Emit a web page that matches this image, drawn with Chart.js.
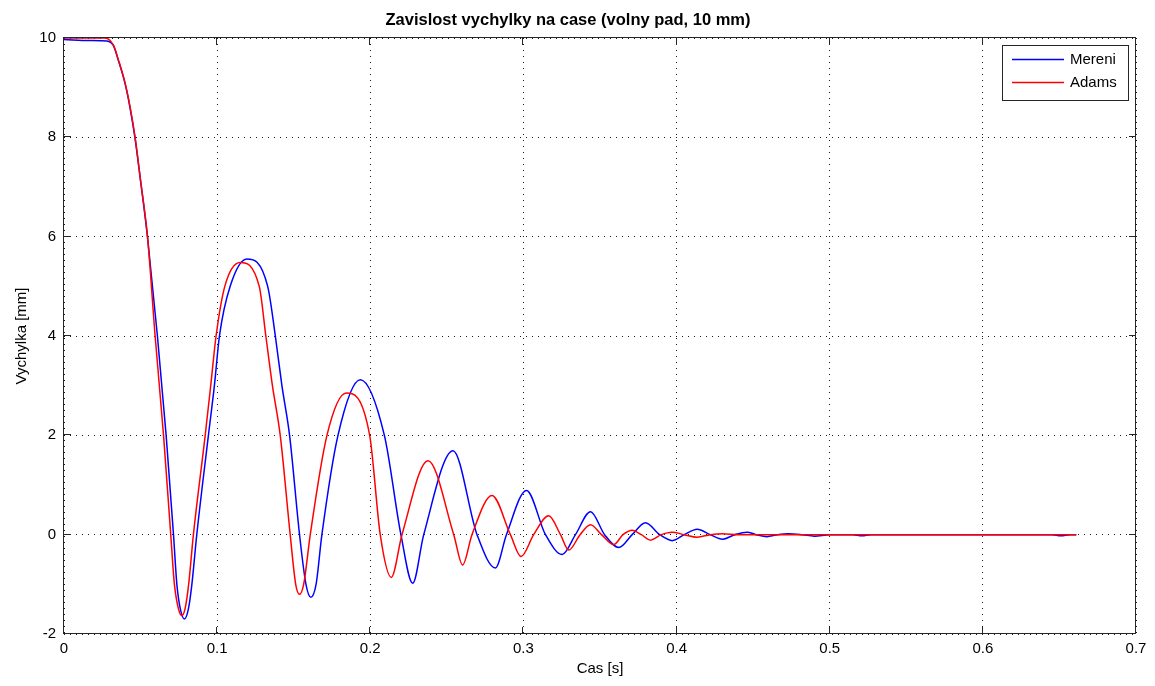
<!DOCTYPE html>
<html>
<head>
<meta charset="utf-8">
<script src="https://cdn.jsdelivr.net/npm/chart.js@4.4.0/dist/chart.umd.min.js"></script>
<style>
    html, body { margin: 0; padding: 0; background: #fff; }
    #wrap { width: 1155px; height: 686px; }
</style>
</head>
<body>
<div id="wrap"><canvas id="chart" width="1155" height="686"></canvas></div>
<script>
// time [s] / deflection [mm] (Mereni)
const tMereni = [0, 0.017, 0.028, 0.0322, 0.0355, 0.0399, 0.0431, 0.0464, 0.0497, 0.0545, 0.061,
    0.0667, 0.0715, 0.0737, 0.076, 0.0786, 0.0812, 0.0835, 0.0867, 0.0943, 0.0982, 0.1015, 0.1085, 0.1194,
    0.133, 0.138, 0.1423, 0.1473, 0.1538, 0.158, 0.1612, 0.1646, 0.1684, 0.1789, 0.1935, 0.2092, 0.220,
    0.2277, 0.2349, 0.254, 0.2697, 0.2817, 0.2889, 0.302, 0.3144, 0.3253, 0.334, 0.3438, 0.353, 0.3623,
    0.371, 0.3797, 0.389, 0.3972, 0.405, 0.4135, 0.422, 0.43, 0.438, 0.446, 0.452, 0.459, 0.466, 0.473,
    0.482, 0.49, 0.50, 0.515, 0.521, 0.527, 0.645, 0.651, 0.657, 0.661];
const yMereni = [9.97, 9.95, 9.94, 9.85, 9.55, 9.08, 8.6, 7.98, 7.2, 6.0, 4.0,
    2.0, 0.0, -1.0, -1.5, -1.70, -1.5, -1.0, 0.0, 2.0, 3.0, 4.0, 5.0, 5.55,
    5.0, 4.0, 3.0, 2.0, 0.0, -1.0, -1.26, -1.0, 0.0, 2.0, 3.12, 2.0, 0.0,
    -0.98, 0.0, 1.69, 0.0, -0.67, 0.0, 0.89, 0.0, -0.40, 0.0, 0.46, 0.0, -0.26,
    0.0, 0.24, 0.0, -0.12, 0.0, 0.11, 0.0, -0.09, 0.0, 0.05, 0.0, -0.04, 0.0, 0.02,
    0.0, -0.03, 0.0, 0.0, -0.02, 0.0, 0.0, -0.02, 0.0, 0.0];

// simulation (Adams)
const tAdams = [0, 0.0268, 0.0322, 0.0355, 0.0399, 0.0431, 0.0464, 0.0497, 0.0545, 0.0595,
    0.065, 0.0697, 0.0721, 0.0748, 0.0769, 0.079, 0.0814, 0.0845, 0.0922, 0.0958, 0.0993, 0.105, 0.115,
    0.1275, 0.1318, 0.1361, 0.1412, 0.1477, 0.1513, 0.1538, 0.1565, 0.1608, 0.1717, 0.1843, 0.1996,
    0.2065, 0.2137, 0.2207, 0.2377, 0.2545, 0.2603, 0.2664, 0.2795, 0.2915, 0.2985, 0.3067, 0.3165,
    0.3242, 0.3296, 0.337, 0.3438, 0.351, 0.359, 0.365, 0.371, 0.377, 0.383, 0.390, 0.397, 0.405,
    0.4135, 0.422, 0.43, 0.44, 0.661];
const yAdams = [10, 10, 9.86, 9.56, 9.09, 8.62, 8.01, 7.2, 6.01, 4.0,
    2.0, 0.0, -1.0, -1.5, -1.63, -1.5, -1.0, 0.0, 2.0, 3.0, 4.0, 5.0, 5.48,
    5.0, 4.0, 3.0, 2.0, 0.0, -1.0, -1.20, -1.0, 0.0, 2.0, 2.85, 2.0,
    0.0, -0.86, 0.0, 1.49, 0.0, -0.61, 0.0, 0.79, 0.0, -0.44, 0.0, 0.38,
    0.0, -0.31, 0.0, 0.20, 0.0, -0.20, 0.0, 0.09, 0.0, -0.11, 0.0, 0.05, 0.0,
    -0.05, 0.0, 0.02, 0.0, 0.0];

const xTicks = [0, 0.1, 0.2, 0.3, 0.4, 0.5, 0.6, 0.7];
const xTickLabels = ['0', '0.1', '0.2', '0.3', '0.4', '0.5', '0.6', '0.7'];
const yTicks = [-2, 0, 2, 4, 6, 8, 10];
const yTickLabels = ['-2', '0', '2', '4', '6', '8', '10'];

const FONT = '"Liberation Sans", Arial, Helvetica, sans-serif';

const toPoints = (ts, ys) => ts.map((t, i) => ({x: t, y: ys[i]}));

// MATLAB style box with inward ticks, drawn under the curves
const framePlugin = {
    id: 'frame',
    beforeDatasetsDraw(chart) {
        const {ctx, chartArea: a, scales: {x, y}} = chart;
        ctx.save();
        ctx.strokeStyle = '#262626';
        ctx.lineWidth = 1;
        ctx.beginPath();
        xTicks.forEach((v) => {
            const px = Math.round(x.getPixelForValue(v)) - 0.5;
            ctx.moveTo(px, a.bottom);
            ctx.lineTo(px, a.bottom - 7);
            ctx.moveTo(px, a.top);
            ctx.lineTo(px, a.top + 7);
        });
        yTicks.forEach((v) => {
            const py = Math.round(y.getPixelForValue(v)) - 0.5;
            ctx.moveTo(a.left, py);
            ctx.lineTo(a.left + 7, py);
            ctx.moveTo(a.right, py);
            ctx.lineTo(a.right - 7, py);
        });
        ctx.stroke();
        ctx.strokeRect(a.left - 0.5, a.top - 0.5, a.width, a.height);
        ctx.restore();
    },
    afterDraw(chart) {
        // legend box in the upper right corner
        const {ctx, chartArea: a} = chart;
        const boxW = 126;
        const boxH = 55;
        const bx = a.right - 8 - boxW;
        const by = a.top + 7;
        ctx.save();
        ctx.fillStyle = '#fff';
        ctx.fillRect(bx, by, boxW, boxH);
        ctx.strokeStyle = '#262626';
        ctx.lineWidth = 1;
        ctx.strokeRect(bx + 0.5, by + 0.5, boxW, boxH);
        ctx.font = '15px ' + FONT;
        ctx.textBaseline = 'middle';
        ctx.fillStyle = '#000';
        const items = [chart.data.datasets[0], chart.data.datasets[1]];
        items.forEach((ds, i) => {
            const ly = by + 14.5 + i * 23;
            ctx.strokeStyle = ds.borderColor;
            ctx.lineWidth = 1.5;
            ctx.beginPath();
            ctx.moveTo(bx + 10, ly);
            ctx.lineTo(bx + 62, ly);
            ctx.stroke();
            ctx.fillText(ds.label, bx + 68, ly);
        });
        ctx.restore();
    }
};

const ctx = document.getElementById('chart').getContext('2d');
new Chart(ctx, {
    type: 'line',
    data: {
        datasets: [
            {
                label: 'Mereni',
                data: toPoints(tMereni, yMereni),
                borderColor: '#0000ff',
                borderWidth: 1.5,
                pointRadius: 0,
                cubicInterpolationMode: 'monotone',
                fill: false,
                order: 1
            },
            {
                label: 'Adams',
                data: toPoints(tAdams, yAdams),
                borderColor: '#ff0000',
                borderWidth: 1.5,
                pointRadius: 0,
                cubicInterpolationMode: 'monotone',
                fill: false,
                order: 0
            }
        ]
    },
    options: {
        responsive: false,
        animation: false,
        layout: {padding: {left: 0, right: 19, top: 0, bottom: 0}},
        plugins: {
            legend: {display: false},
            tooltip: {enabled: false},
            title: {
                display: true,
                text: 'Zavislost vychylky na case (volny pad, 10 mm)',
                color: '#000',
                font: {family: FONT, size: 16.5, weight: 'bold'},
                padding: {top: 11, bottom: 7.2}
            }
        },
        scales: {
            x: {
                type: 'linear',
                min: 0,
                max: 0.7,
                afterFit: (scale) => { scale.height = 52; },
                afterBuildTicks: (scale) => { scale.ticks = xTicks.map((v) => ({value: v})); },
                ticks: {
                    color: '#000',
                    font: {family: FONT, size: 15},
                    padding: 6,
                    maxRotation: 0,
                    callback: (value, i) => xTickLabels[i]
                },
                grid: {color: 'rgba(0,0,0,0.9)', lineWidth: 1, drawTicks: false},
                border: {display: false, dash: [1, 5]},
                title: {
                    display: true,
                    text: 'Cas [s]',
                    color: '#000',
                    font: {family: FONT, size: 15},
                    padding: {top: 0, bottom: 8}
                }
            },
            y: {
                type: 'linear',
                min: -2,
                max: 10,
                afterFit: (scale) => { scale.width = 64; },
                afterBuildTicks: (scale) => { scale.ticks = yTicks.map((v) => ({value: v})); },
                ticks: {
                    color: '#000',
                    font: {family: FONT, size: 15},
                    padding: 8,
                    callback: (value, i) => yTickLabels[i]
                },
                grid: {color: 'rgba(0,0,0,0.9)', lineWidth: 1, drawTicks: false},
                border: {display: false, dash: [1, 5]},
                title: {
                    display: true,
                    text: 'Vychylka [mm]',
                    color: '#000',
                    font: {family: FONT, size: 15},
                    padding: {top: 13, bottom: 0}
                }
            }
        }
    },
    plugins: [framePlugin]
});
</script>
</body>
</html>
